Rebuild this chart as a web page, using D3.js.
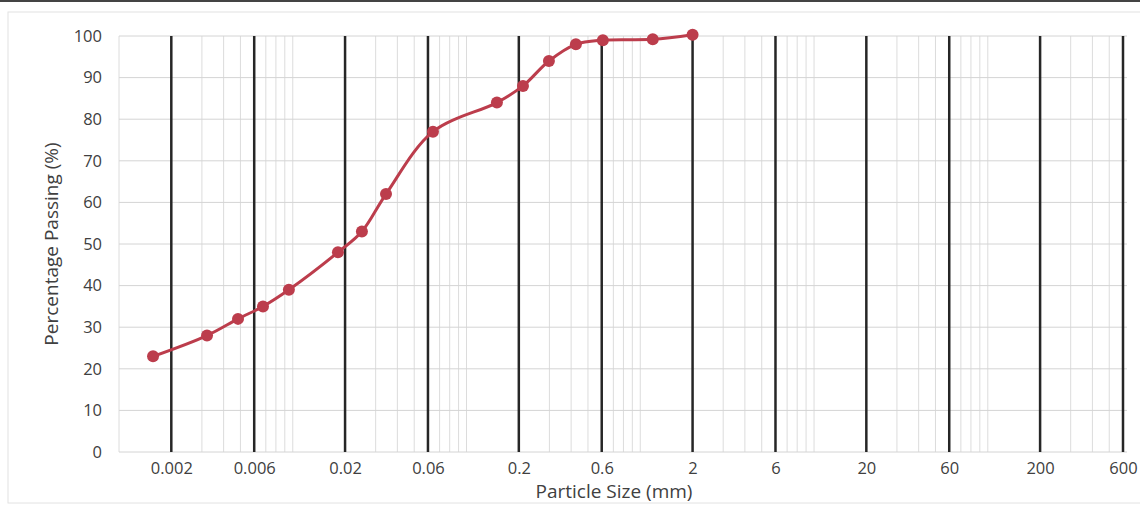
<!DOCTYPE html>
<html>
<head>
<meta charset="utf-8">
<script src="https://cdn.jsdelivr.net/npm/d3@7"></script>
<style>
  body { margin: 0; background: #fff; }
  svg text { font-family: "Open Sans", "Liberation Sans", sans-serif; fill: #404040; }
</style>
</head>
<body>
<div id="chart"></div>
<script>
// grading curve data
const sizes = [0.00157, 0.00321, 0.00484, 0.00674, 0.0095, 0.0182, 0.025, 0.0344,
               0.0641, 0.1496, 0.2113, 0.298, 0.426, 0.609, 1.18, 2.0];
const passing = [23, 28, 32, 35, 39, 48, 53, 62, 77, 84, 88, 94, 98, 99, 99.2, 100.3];

// heavy vertical boundaries + their labels
const majorTicks = [0.002, 0.006, 0.02, 0.06, 0.2, 0.6, 2, 6, 20, 60, 200, 600];
const majorLabels = ["0.002", "0.006", "0.02", "0.06", "0.2", "0.6", "2", "6", "20", "60", "200", "600"];
const yTicks = [0, 10, 20, 30, 40, 50, 60, 70, 80, 90, 100];

const W = 1140, H = 506;
const m = { left: 119, right: 1123, top: 36, bottom: 452 };

const svg = d3.select("#chart").append("svg")
    .attr("width", W).attr("height", H);

// scan frame
svg.append("line").attr("x1", 0).attr("x2", W).attr("y1", 1).attr("y2", 1)
    .attr("stroke", "#444").attr("stroke-width", 2);
svg.append("rect").attr("x", 8).attr("y", 12).attr("width", W).attr("height", 491)
    .attr("fill", "none").attr("stroke", "#e2e2e2").attr("stroke-width", 1);

const x = d3.scaleLog().domain([0.001, 600]).range([m.left, m.right]);
const y = d3.scaleLinear().domain([0, 100]).range([m.bottom, m.top]);

// minor log gridlines
svg.append("g").selectAll("line")
    .data(x.ticks())
    .join("line")
    .attr("x1", d => x(d)).attr("x2", d => x(d))
    .attr("y1", m.top).attr("y2", m.bottom)
    .attr("stroke", "#dcdcdc").attr("stroke-width", 1);

// horizontal gridlines
svg.append("g").selectAll("line")
    .data(yTicks)
    .join("line")
    .attr("x1", m.left).attr("x2", m.right + 4)
    .attr("y1", d => y(d)).attr("y2", d => y(d))
    .attr("stroke", "#d4d4d4").attr("stroke-width", 1);

// heavy boundaries
svg.append("g").selectAll("line")
    .data(majorTicks)
    .join("line")
    .attr("x1", d => x(d)).attr("x2", d => x(d))
    .attr("y1", m.top).attr("y2", m.bottom)
    .attr("stroke", "#262626").attr("stroke-width", 2.5);

// axes (labels only)
const xAxis = d3.axisBottom(x)
    .tickValues(majorTicks)
    .tickFormat((d, i) => majorLabels[i])
    .tickSize(0).tickPadding(10);
const gx = svg.append("g").attr("transform", `translate(0,${m.bottom})`).call(xAxis);
gx.select(".domain").remove();
gx.selectAll("text").style("font-size", "16.5px");

const yAxis = d3.axisLeft(y).tickValues(yTicks).tickSize(0).tickPadding(17);
const gy = svg.append("g").attr("transform", `translate(${m.left},0)`).call(yAxis);
gy.select(".domain").remove();
gy.selectAll("text").style("font-size", "16.5px");

// axis titles
svg.append("text")
    .attr("x", 614).attr("y", 498)
    .attr("text-anchor", "middle")
    .style("font-size", "19px")
    .text("Particle Size (mm)");

svg.append("text")
    .attr("transform", `translate(58,${(m.top + m.bottom) / 2}) rotate(-90)`)
    .attr("text-anchor", "middle")
    .style("font-size", "19px")
    .text("Percentage Passing (%)");

// curve
const pts = sizes.map((s, i) => [s, passing[i]]);
const red = "#bc3d4c";

svg.append("path")
    .datum(pts)
    .attr("fill", "none")
    .attr("stroke", red)
    .attr("stroke-width", 3)
    .attr("d", d3.line().x(d => x(d[0])).y(d => y(d[1])).curve(d3.curveCatmullRom.alpha(0.5)));

svg.append("g").selectAll("circle")
    .data(pts)
    .join("circle")
    .attr("cx", d => x(d[0])).attr("cy", d => y(d[1]))
    .attr("r", 6)
    .attr("fill", red);
</script>
</body>
</html>
